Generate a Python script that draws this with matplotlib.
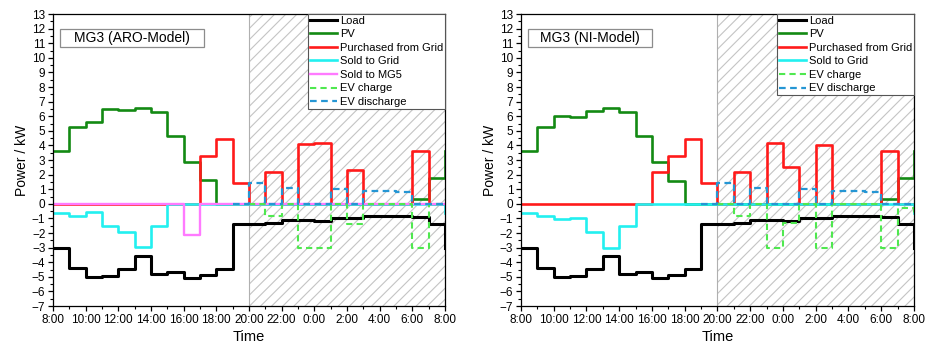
import numpy as np
import matplotlib
matplotlib.use("Agg")
import matplotlib.pyplot as plt
from matplotlib.patches import Rectangle

plt.rcParams['font.family'] = ['Liberation Sans', 'DejaVu Sans']
plt.rcParams['hatch.linewidth'] = 0.8

nan = np.nan

# hourly values starting at 8:00 (24 steps) + value drawn at the closing edge
hours = list(range(25))
tick_labels = ["8:00", "10:00", "12:00", "14:00", "16:00", "18:00", "20:00",
               "22:00", "0:00", "2:00", "4:00", "6:00", "8:00"]

load = [-3.0, -4.4, -5.0, -4.95, -4.45, -3.6, -4.8, -4.65, -5.1, -4.85, -4.45, -1.4,
        -1.35, -1.3, -1.1, -1.1, -1.15, -1.0, -0.95, -0.85, -0.85, -0.8, -0.9, -1.4, -3.0]

# ARO model
pv_aro = [3.65, 5.25, 5.6, 6.5, 6.4, 6.55, 6.3, 4.65, 2.9, 1.6, 0, 0,
          0, 0, 0, 0, 0, 0, 0, 0, 0, 0, 0.3, 1.75, 3.65]
buy_aro = [0, 0, 0, 0, 0, 0, 0, 0, 0, 3.3, 4.45, 1.4,
           0, 2.2, 0, 4.1, 4.15, 0, 2.35, 0, 0, 0, 3.6, 0, 0]
sell_aro = [-0.6, -0.85, -0.55, -1.55, -1.9, -2.95, -1.5, 0, 0, 0, 0, 0,
            0, 0, 0, 0, 0, 0, 0, 0, 0, 0, 0, 0, -0.6]
mg5_aro = [0, 0, 0, 0, 0, 0, 0, 0, -2.15, 0, 0, 0,
           0, 0, 0, 0, 0, 0, 0, 0, 0, 0, 0, 0, 0]
evc_aro = [nan] * 12 + [0, -0.85, 0, -3.0, -3.0, 0, -1.35, 0, 0, 0, -3.0, 0, 0]
evd_aro = [nan] * 11 + [0, 1.4, 0, 1.1, 0, 0, 1.05, 0, 0.85, 0.85, 0.8, 0, 0, 0]

# NI model
pv_ni = [3.65, 5.25, 6.05, 5.95, 6.35, 6.55, 6.3, 4.65, 2.9, 1.55, 0, 0,
         0, 0, 0, 0, 0, 0, 0, 0, 0, 0, 0.3, 1.75, 3.65]
buy_ni = [0, 0, 0, 0, 0, 0, 0, 0, 2.2, 3.3, 4.45, 1.4,
          0, 2.2, 0, 4.15, 2.5, 0, 4.0, 0, 0, 0, 3.6, 0, 0]
sell_ni = [-0.6, -0.85, -1.05, -1.0, -1.9, -3.0, -1.5, 0, 0, 0, 0, 0,
           0, 0, 0, 0, 0, 0, 0, 0, 0, 0, 0, 0, -0.6]
evc_ni = [nan] * 12 + [0, -0.85, 0, -3.0, -1.3, 0, -3.0, 0, 0, 0, -3.0, -0.3, -0.65]
evd_ni = [nan] * 11 + [0, 1.4, 0, 1.1, 0, 0, 1.05, 0, 0.85, 0.85, 0.8, 0, 0, 0]

C_LOAD = "black"
C_PV = "#138a13"
C_BUY = "#ff1a1a"
C_SELL = "#22f0f0"
C_MG5 = "#ff7aff"
C_EVC = "#4fe84f"
C_EVD = "#2596d4"

fig = plt.figure(figsize=(9.25, 3.51), dpi=100)
ax1 = fig.add_axes([0.0573, 0.128, 0.4238, 0.832])
ax2 = fig.add_axes([0.5632, 0.128, 0.4249, 0.832])


def draw_panel(ax, title, box_w, series):
    ax.axvspan(12, 24, facecolor="white", edgecolor="#c4c4c4", hatch="///", lw=0, zorder=0)
    ax.axvline(12, color="#b0b0b0", lw=0.8, zorder=1)
    for y, label, color, lw, ls in series:
        ax.step(hours, y, where="post", color=color, lw=lw, ls=ls, label=label,
                dashes=(3, 2) if ls == "--" else (None, None))
    ax.set_xlim(0, 24)
    ax.set_ylim(-7, 13)
    ax.set_xticks(range(0, 25, 2))
    ax.set_xticklabels(tick_labels)
    ax.set_xticks(range(0, 25), minor=True)
    ax.set_yticks(range(-7, 14))
    ax.set_yticks(np.arange(-7, 13.1, 0.5), minor=True)
    ax.tick_params(axis="both", which="major", direction="out", length=3.5, width=0.9,
                   labelsize=8.5, pad=2, top=False, right=False)
    ax.tick_params(axis="both", which="minor", direction="out", length=2, width=0.8,
                   top=False, right=False)
    for sp in ax.spines.values():
        sp.set_linewidth(0.9)
    ax.set_xlabel("Time", fontsize=10.5, labelpad=3)
    ax.set_ylabel("Power / kW", fontsize=10, labelpad=2)
    ax.add_patch(Rectangle((0.018, 0.888), box_w, 0.062, transform=ax.transAxes,
                           facecolor="white", edgecolor="#8c8c8c", lw=0.9, zorder=5))
    ax.text(0.018 + box_w / 2, 0.919, title, transform=ax.transAxes, ha="center",
            va="center", fontsize=10, zorder=6)
    leg = ax.legend(loc="upper right", fontsize=8, frameon=True, fancybox=False,
                    framealpha=1, edgecolor="#555555", borderaxespad=0,
                    handlelength=2.4, handletextpad=0.3, labelspacing=0.32,
                    borderpad=0.15)
    leg.get_frame().set_linewidth(0.8)
    leg.set_zorder(10)


draw_panel(ax1, "MG3 (ARO-Model)", 0.367, [
    (load, "Load", C_LOAD, 2.2, "-"),
    (pv_aro, "PV", C_PV, 1.9, "-"),
    (buy_aro, "Purchased from Grid", C_BUY, 1.9, "-"),
    (sell_aro, "Sold to Grid", C_SELL, 1.9, "-"),
    (mg5_aro, "Sold to MG5", C_MG5, 1.7, "-"),
    (evc_aro, "EV charge", C_EVC, 1.5, "--"),
    (evd_aro, "EV discharge", C_EVD, 1.6, "--"),
])

draw_panel(ax2, "MG3 (NI-Model)", 0.315, [
    (load, "Load", C_LOAD, 2.2, "-"),
    (pv_ni, "PV", C_PV, 1.9, "-"),
    (buy_ni, "Purchased from Grid", C_BUY, 1.9, "-"),
    (sell_ni, "Sold to Grid", C_SELL, 1.9, "-"),
    (evc_ni, "EV charge", C_EVC, 1.5, "--"),
    (evd_ni, "EV discharge", C_EVD, 1.6, "--"),
])

fig.savefig("out.png", dpi=100)
